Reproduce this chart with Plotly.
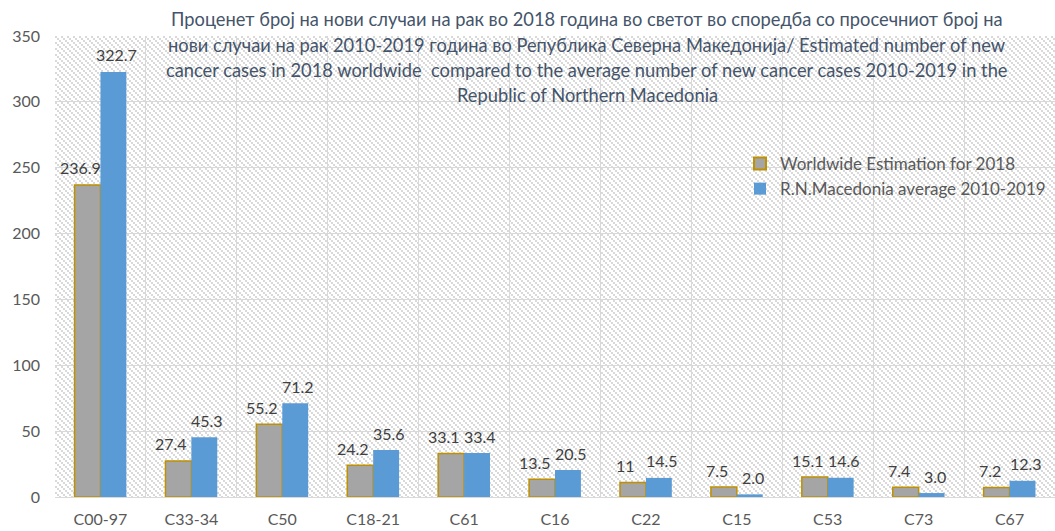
import base64
import plotly.graph_objects as go

categories = ["C00-97", "C33-34", "C50", "C18-21", "C61", "C16", "C22", "C15", "C53", "C73", "C67"]
worldwide = [236.9, 27.4, 55.2, 24.2, 33.1, 13.5, 11, 7.5, 15.1, 7.4, 7.2]
worldwide_labels = ["236.9", "27.4", "55.2", "24.2", "33.1", "13.5", "11", "7.5", "15.1", "7.4", "7.2"]
macedonia = [322.7, 45.3, 71.2, 35.6, 33.4, 20.5, 14.5, 2.0, 14.6, 3.0, 12.3]
macedonia_labels = ["322.7", "45.3", "71.2", "35.6", "33.4", "20.5", "14.5", "2.0", "14.6", "3.0", "12.3"]
y_ticks = [0, 50, 100, 150, 200, 250, 300, 350]
title_lines = [
    "Проценет број на нови случаи на рак во 2018 година во светот во споредба со просечниот број на",
    "нови случаи на рак 2010-2019 година во Република Северна Македонија/ Estimated number of new",
    "cancer cases in 2018 worldwide  compared to the average number of new cancer cases 2010-2019 in the",
    "Republic of Northern Macedonia",
]

FONT = "Lato"
W, H = 1055, 531
L, R, T, B = 55, 0, 36, 34
PW, PH = W - L - R, H - T - B

# hatched background pattern for plot area
rects = ""
for k in range(3):
    rects += f"<rect x='{2*k}' y='{2*k}' width='2' height='2' fill='#d9d9d9'/>"
svg = (f"<svg xmlns='http://www.w3.org/2000/svg' width='{PW}' height='{PH}' shape-rendering='crispEdges'>"
       f"<defs><pattern id='p' width='6' height='6' patternUnits='userSpaceOnUse'>{rects}</pattern></defs>"
       f"<rect width='{PW}' height='{PH}' fill='white'/><rect width='{PW}' height='{PH}' fill='url(#p)'/></svg>")
src = "data:image/svg+xml;base64," + base64.b64encode(svg.encode()).decode()

fig = go.Figure()
fig.add_trace(go.Bar(
    x=categories, y=worldwide, name="Worldwide Estimation for 2018",
    marker=dict(color="#a5a5a5", line=dict(color="#bf9000", width=1.5)),
))
fig.add_trace(go.Bar(
    x=categories, y=macedonia, name="R.N.Macedonia average 2010-2019",
    marker=dict(color="#5b9bd5", line=dict(width=0)),
))

annotations = []
line_y = [19, 45, 70, 95]
for txt, yp in zip(title_lines, line_y):
    annotations.append(dict(
        text=txt, xref="paper", yref="paper", x=(587 - L) / PW, y=(H - B - yp) / PH,
        xanchor="center", yanchor="middle", showarrow=False,
        font=dict(family=FONT, size=18.3, color="#44546a"),
    ))

# data labels above each bar (offset per series)
for vals, labels, shift in ((worldwide, worldwide_labels, -20), (macedonia, macedonia_labels, 16)):
    for c, v, t in zip(categories, vals, labels):
        annotations.append(dict(
            text=t, x=c, y=v, xref="x", yref="y", xshift=shift, yshift=17,
            xanchor="center", yanchor="middle", showarrow=False,
            font=dict(family=FONT, size=16, color="#404040"),
        ))

fig.update_layout(
    width=W, height=H,
    margin=dict(l=L, r=R, t=T, b=B, pad=0),
    paper_bgcolor="white", plot_bgcolor="rgba(0,0,0,0)",
    barmode="group", bargap=0.43, bargroupgap=0,
    showlegend=True,
    legend=dict(x=(740 - L) / PW, y=(H - B - 146) / PH, xanchor="left", yanchor="top",
                bgcolor="rgba(0,0,0,0)", font=dict(family=FONT, size=17, color="#595959"),
                itemsizing="constant", tracegroupgap=0),
    font=dict(family=FONT, size=16, color="#595959"),
    annotations=annotations,
    images=[dict(source=src, xref="paper", yref="paper", x=0, y=1, sizex=1, sizey=1,
                 xanchor="left", yanchor="top", sizing="stretch", layer="below")],
    xaxis=dict(showgrid=True, gridcolor="#d9d9d9", gridwidth=1, tickson="boundaries",
               ticks="", showline=True, linecolor="#d9d9d9", linewidth=1,
               tickfont=dict(family=FONT, size=16, color="#595959"), ticklabelstandoff=8),
    yaxis=dict(range=[0, 350], tickvals=y_ticks, showgrid=True, gridcolor="#d9d9d9", gridwidth=1,
               zeroline=False, showline=False, ticks="",
               tickfont=dict(family=FONT, size=16, color="#595959"), ticklabelstandoff=14),
)

fig.write_html("out.html", config={"displayModeBar": False},
               post_script="document.body.style.margin='0';document.body.style.overflow='hidden';")
